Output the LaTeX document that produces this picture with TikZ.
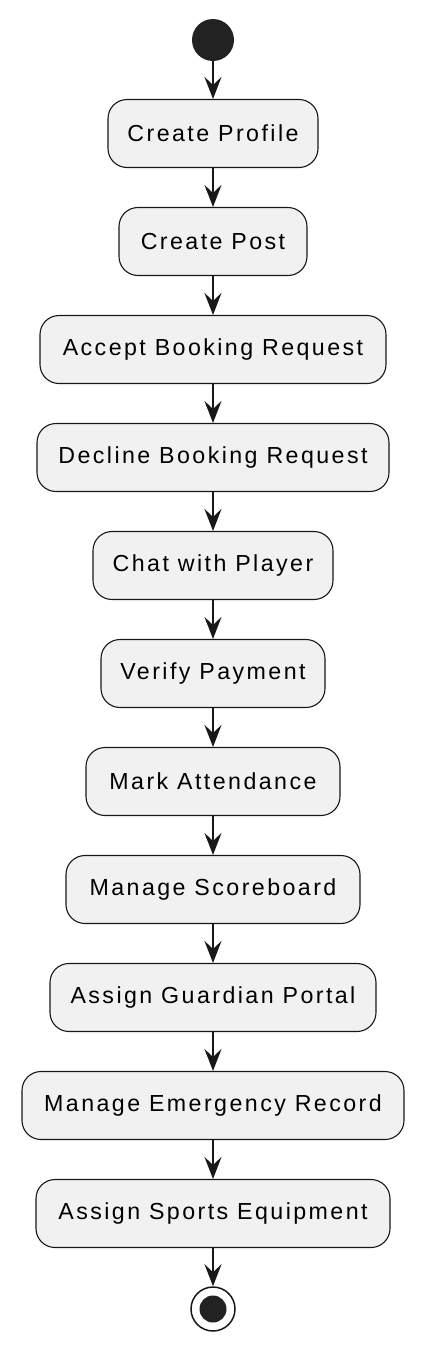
\documentclass[tikz,border=0pt]{standalone}
\usepackage{fontspec}
\setmainfont[LetterSpace=10.5]{Liberation Sans}
\usetikzlibrary{arrows.meta}
\definecolor{boxfill}{HTML}{F1F1F1}
\definecolor{ink}{HTML}{181818}
\definecolor{dotfill}{HTML}{222222}
\begin{document}
\begin{tikzpicture}[x=1pt,y=-1pt,
  actbox/.style={draw=ink, line width=1.1pt, fill=boxfill, rounded corners=19pt,
    minimum height=68pt, inner xsep=0pt, inner ysep=0pt,
    font=\fontsize{23.2}{27}\selectfont, text=black},
  flow/.style={draw=ink, line width=2pt, -{Stealth[length=22pt,width=17pt,inset=8pt]}}]
\useasboundingbox (0,0) rectangle (426,1352);
\node[circle, fill=dotfill, minimum size=42pt, inner sep=0pt] (start) at (213,40) {};
\node[actbox, minimum width=210pt] (a1) at (213,133.5) {Create Profile};
\node[actbox, minimum width=188pt] (a2) at (213,241.5) {Create Post};
\node[actbox, minimum width=346pt] (a3) at (213,349.5) {Accept Booking Request};
\node[actbox, minimum width=352pt] (a4) at (213,457.5) {Decline Booking Request};
\node[actbox, minimum width=240pt] (a5) at (213,565.5) {Chat with Player};
\node[actbox, minimum width=224pt] (a6) at (213,673.5) {Verify Payment};
\node[actbox, minimum width=254pt] (a7) at (213,781.5) {Mark Attendance};
\node[actbox, minimum width=294pt] (a8) at (213,889.5) {Manage Scoreboard};
\node[actbox, minimum width=326pt] (a9) at (213,997.5) {Assign Guardian Portal};
\node[actbox, minimum width=382pt] (a10) at (213,1105.5) {Manage Emergency Record};
\node[actbox, minimum width=354pt] (a11) at (213,1213.5) {Assign Sports Equipment};
\node[circle, draw=ink, line width=1.5pt, fill=white, minimum size=44pt, inner sep=0pt] (stop) at (213,1309) {};
\node[circle, fill=dotfill, minimum size=27pt, inner sep=0pt] (stopdot) at (stop.center) {};
\draw[flow] (start) -- (a1);
\draw[flow] (a1) -- (a2);
\draw[flow] (a2) -- (a3);
\draw[flow] (a3) -- (a4);
\draw[flow] (a4) -- (a5);
\draw[flow] (a5) -- (a6);
\draw[flow] (a6) -- (a7);
\draw[flow] (a7) -- (a8);
\draw[flow] (a8) -- (a9);
\draw[flow] (a9) -- (a10);
\draw[flow] (a10) -- (a11);
\draw[flow] (a11) -- (stop);
\end{tikzpicture}
\end{document}
